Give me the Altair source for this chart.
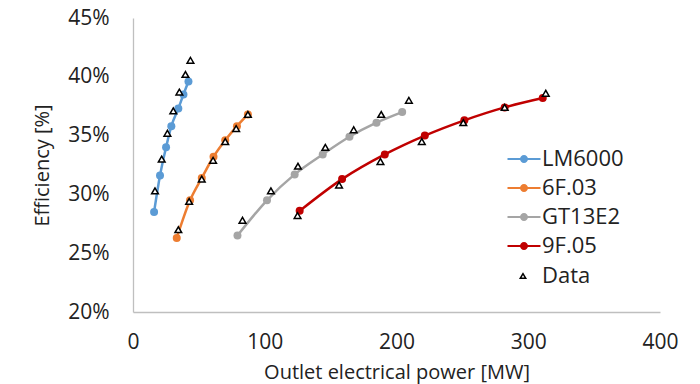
import altair as alt
import pandas as pd

# ---- data ----
series_names = ["LM6000", "6F.03", "GT13E2", "9F.05"]
series_colors = ["#5B9BD5", "#ED7D31", "#A5A5A5", "#C00000"]

lm6000_power = [16.0, 20.5, 25.1, 29.1, 34.4, 38.3, 42.1]
lm6000_eff = [28.5, 31.6, 34.0, 35.8, 37.3, 38.5, 39.6]
f603_power = [33.2, 43.3, 52.2, 61.1, 70.0, 78.9, 87.2]
f603_eff = [26.3, 29.5, 31.4, 33.2, 34.6, 35.8, 36.8]
gt13_power = [79.3, 101.7, 122.7, 144.0, 164.3, 184.8, 204.3]
gt13_eff = [26.5, 29.5, 31.7, 33.4, 34.9, 36.1, 37.0]
f905_power = [126.5, 158.7, 191.1, 221.5, 251.5, 282.1, 311.0]
f905_eff = [28.6, 31.3, 33.4, 35.0, 36.3, 37.4, 38.2]

data_power = [16.7, 21.8, 26.1, 30.6, 35.2, 39.8, 43.6,
              34.4, 42.6, 52.2, 60.8, 70.0, 78.3, 87.2,
              83.1, 104.7, 125.2, 146.0, 167.5, 188.4, 209.4,
              124.9, 156.4, 187.8, 219.2, 250.7, 282.1, 313.3]
data_eff = [30.3, 33.0, 35.2, 37.1, 38.7, 40.2, 41.4,
            27.0, 29.4, 31.3, 32.9, 34.5, 35.6, 36.8,
            27.8, 30.3, 32.4, 34.0, 35.5, 36.8, 38.0,
            28.2, 30.8, 32.8, 34.5, 36.1, 37.4, 38.6]

x_ticks = [0, 100, 200, 300, 400]
y_ticks = [20, 25, 30, 35, 40, 45]

model_rows = []
for name, px, ef in zip(series_names,
                        [lm6000_power, f603_power, gt13_power, f905_power],
                        [lm6000_eff, f603_eff, gt13_eff, f905_eff]):
    for a, b in zip(px, ef):
        model_rows.append({"series": name, "power": a, "eff": b})
model_df = pd.DataFrame(model_rows)
data_df = pd.DataFrame({"power": data_power, "eff": data_eff, "kind": "Data"})

FONT = "Open Sans"
TXT = "#222222"
AXC = "#BFBFBF"

# legend glyph: short line with a dot, drawn as filled geometry
legend_path = ("M-1.65,-0.11H1.65V0.11H-1.65Z"
               "M-0.4,0A0.4,0.4,0,1,1,0.4,0A0.4,0.4,0,1,1,-0.4,0Z")

x_enc = alt.X("power:Q", scale=alt.Scale(domain=[0, 400], nice=False),
              axis=alt.Axis(values=x_ticks, title="Outlet electrical power [MW]",
                            labelFontSize=21, titleFontSize=20, labelPadding=19,
                            titlePadding=10, ticks=False, tickSize=0, grid=False,
                            labelFlush=False,
                            domainColor=AXC, domainWidth=1.3, labelColor=TXT,
                            titleColor=TXT, labelFont=FONT, titleFont=FONT,
                            titleFontWeight="normal"))
y_enc = alt.Y("eff:Q", scale=alt.Scale(domain=[20, 45], nice=False, zero=False),
              axis=alt.Axis(values=y_ticks, labelExpr="datum.value + '%'",
                            title="Efficiency [%]", labelFontSize=21,
                            titleFontSize=20, labelPadding=24, titlePadding=15,
                            ticks=False, tickSize=0, grid=False, labelFlush=False,
                            domainColor=AXC,
                            domainWidth=1.3, labelColor=TXT, titleColor=TXT,
                            labelFont=FONT, titleFont=FONT,
                            titleFontWeight="normal"))

color_scale = alt.Scale(domain=series_names, range=series_colors)

lines = alt.Chart(model_df).mark_line(strokeWidth=2.5, interpolate="monotone").encode(
    x=x_enc, y=y_enc,
    stroke=alt.Stroke("series:N", scale=color_scale, legend=None),
    detail="series:N",
)

dots = alt.Chart(model_df).mark_point(filled=True, size=64, opacity=1).encode(
    x=x_enc, y=y_enc,
    fill=alt.Fill("series:N", scale=color_scale,
                  legend=alt.Legend(title=None, orient="none", legendX=380,
                                    legendY=130, symbolType=legend_path,
                                    symbolSize=400, labelFontSize=22,
                                    labelFont=FONT, labelColor=TXT,
                                    labelOffset=7, rowPadding=7, padding=0,
                                    labelLimit=300)),
)

tris = alt.Chart(data_df).mark_point(filled=False, fill="white", fillOpacity=1,
                                     stroke="black", strokeWidth=1.5, size=45,
                                     opacity=1).encode(
    x=x_enc, y=y_enc,
    shape=alt.Shape("kind:N", scale=alt.Scale(domain=["Data"], range=["triangle-up"]),
                    legend=alt.Legend(title=None, orient="none", legendX=379,
                                      legendY=247, symbolSize=30,
                                      symbolStrokeWidth=1.5, labelFontSize=22,
                                      labelFont=FONT, labelColor=TXT,
                                      labelOffset=8, padding=0)),
)

chart = alt.layer(lines, dots, tris).resolve_scale(
    fill="independent", shape="independent"
).properties(
    width=527, height=294,
    autosize=alt.AutoSizeParams(type="none"),
    padding={"left": 133, "top": 18, "right": 40, "bottom": 72},
    background="white",
).configure_view(stroke=None)

chart.save("out.html", embed_options={"renderer": "svg", "actions": False})
